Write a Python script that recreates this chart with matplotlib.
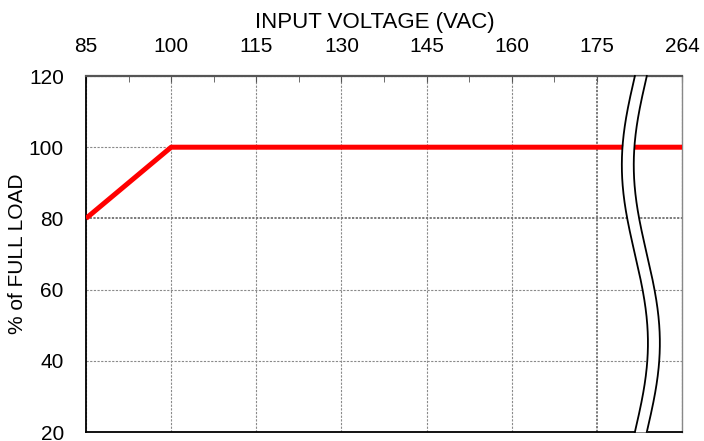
import numpy as np
import matplotlib
matplotlib.use("Agg")
import matplotlib.pyplot as plt
from matplotlib.ticker import FixedLocator

# data
voltage = [85, 100, 264]
load = [80, 100, 100]

# top axis labels (last step is broken: 175 -> 264)
x_labels = [85, 100, 115, 130, 145, 160, 175, 264]
y_ticks = [20, 40, 60, 80, 100, 120]

# evenly spaced positions for the labels, the break squeezes 175..264 into one step
x_pos = [85 + 15 * i for i in range(len(x_labels))]


def to_pos(v):
    return np.interp(v, x_labels, x_pos)


plt.rcParams['font.family'] = ['Liberation Sans', 'DejaVu Sans']

fig = plt.figure(figsize=(7.04, 4.41), dpi=100)
ax = fig.add_axes([86 / 704, 9 / 441, 596 / 704, 356 / 441])

ax.plot(to_pos(voltage), load, color='#ff0000', lw=3.6, solid_capstyle='butt', zorder=3)

ax.set_xlim(x_pos[0], x_pos[-1])
ax.set_ylim(y_ticks[0], y_ticks[-1])

ax.xaxis.tick_top()
ax.xaxis.set_label_position('top')
ax.set_xticks(x_pos)
ax.set_xticklabels([str(v) for v in x_labels])
minor = [p + 7.5 for p in x_pos[:-1]]
ax.xaxis.set_minor_locator(FixedLocator(minor))
ax.tick_params(axis='x', which='major', direction='in', length=4, color='#555555',
               labelsize=15, pad=14.5)
ax.tick_params(axis='x', which='minor', direction='in', length=4, color='#555555', top=True)
ax.set_yticks(y_ticks)
ax.tick_params(axis='y', length=0, labelsize=15, pad=16)

ax.set_xlabel('INPUT VOLTAGE (VAC)', fontsize=16)
ax.xaxis.set_label_coords(0.485, 1.122)
ax.xaxis.label.set_va('bottom')
ax.set_ylabel('% of FULL LOAD', fontsize=15)
ax.yaxis.set_label_coords(-0.099, 0.5)

ax.grid(True, which='major', color='#8a8a8a', linestyle=(0, (2, 1.3)), lw=0.8)
# the 80 % line and the 175 V line are drawn heavier in the original
for gl in (ax.get_ygridlines()[y_ticks.index(80)], ax.get_xgridlines()[x_labels.index(175)]):
    gl.set_linewidth(1.4)
    gl.set_dashes((1.15, 0.75))
    gl.set_color('#7a7a7a')

for side in ['left', 'bottom']:
    ax.spines[side].set_color('black')
    ax.spines[side].set_linewidth(1.3)
ax.spines['top'].set_color('#555555')
ax.spines['top'].set_linewidth(1.6)
ax.spines['right'].set_color('#888888')
ax.spines['right'].set_linewidth(1.0)

# axis break between 175 and 264
t = np.linspace(0, 1, 300)
yb = y_ticks[-1] - (y_ticks[-1] - y_ticks[0]) * t
amp = 2.3
xl = 181.7 - amp * np.sin(2 * np.pi * t)
xr = 183.8 - amp * np.sin(2 * np.pi * t)
ax.fill_betweenx(yb, xl, xr, color='white', zorder=5, clip_on=False, lw=0)
ax.plot(xl, yb, color='black', lw=1.3, zorder=6, clip_on=False)
ax.plot(xr, yb, color='black', lw=1.3, zorder=6, clip_on=False)

fig.savefig('out.png', dpi=100)
